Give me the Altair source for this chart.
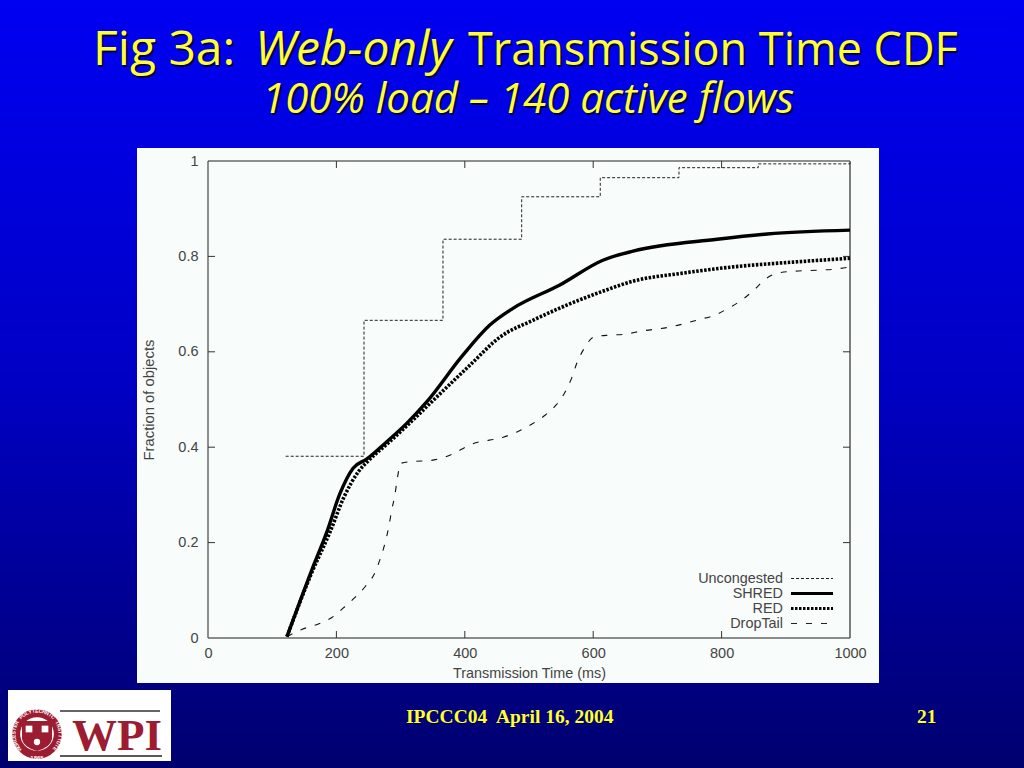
import math
import altair as alt
import pandas as pd

# ---- chart values ----
unc_x = [121, 243, 366, 488.6, 611, 733.6, 857, 1000]
unc_y = [0.381, 0.666, 0.836, 0.925, 0.965, 0.986, 0.994, 0.998]

shred_x = [123, 161.5, 185, 205.6, 226, 247, 278, 309.5, 340.6, 397, 439, 475, 548, 615, 662, 793, 871, 1000]
shred_y = [0.003, 0.142, 0.222, 0.303, 0.356, 0.375, 0.411, 0.450, 0.495, 0.593, 0.656, 0.691, 0.740, 0.792, 0.811, 0.836, 0.847, 0.855]

red_x = [123, 161, 190, 212, 235, 250, 280, 310, 346, 408, 455, 506, 559, 611, 662, 740, 818, 911, 1000]
red_y = [0.003, 0.135, 0.222, 0.296, 0.350, 0.372, 0.408, 0.445, 0.492, 0.572, 0.631, 0.666, 0.698, 0.725, 0.748, 0.765, 0.778, 0.788, 0.796]

drop_x = [123, 146, 169, 193, 210, 229, 245, 260, 269, 276, 282, 286, 291, 295, 300, 318, 346, 380, 408, 460, 483, 504, 525, 542, 556, 567, 575, 586, 601, 626, 650, 673, 720, 766, 790, 810, 833, 850, 870, 888, 914, 948, 974, 1000]
drop_y = [0.003, 0.018, 0.028, 0.043, 0.062, 0.085, 0.108, 0.137, 0.169, 0.200, 0.236, 0.267, 0.299, 0.335, 0.366, 0.370, 0.372, 0.385, 0.405, 0.421, 0.433, 0.448, 0.467, 0.488, 0.515, 0.547, 0.578, 0.607, 0.631, 0.635, 0.637, 0.643, 0.652, 0.668, 0.677, 0.691, 0.710, 0.729, 0.754, 0.765, 0.769, 0.771, 0.773, 0.778]

legend_labels = ["Uncongested", "SHRED", "RED", "DropTail"]
x_ticks = [0, 200, 400, 600, 800, 1000]
y_ticks = [0, 0.2, 0.4, 0.6, 0.8, 1]
inner_x_ticks = [200, 400, 600, 800]
inner_y_ticks = [0.2, 0.4, 0.6, 0.8]

# ---- layout helpers (page pixels -> plot-relative pixels) ----
OX, OY = 208, 161
W, H = 642, 477
px = lambda v: alt.value(v - OX)
py = lambda v: alt.value(v - OY)
one = pd.DataFrame({"a": [0]})
TXT = "#444444"
YEL = "#ffff33"
CRIM = "#9c1c32"

xenc = alt.X("x:Q", scale=alt.Scale(domain=[0, 1000], nice=False),
             axis=alt.Axis(values=x_ticks, format="d", title="Transmission Time (ms)", grid=False, domain=False,
                           ticks=False, labelFont="Liberation Sans", labelFontSize=14.5, labelColor=TXT,
                           labelPadding=8, labelFlush=False, titleFont="Liberation Sans", titleFontSize=14.4,
                           titleFontWeight="normal", titleColor=TXT, titlePadding=7, zindex=1))
yenc = alt.Y("y:Q", scale=alt.Scale(domain=[0, 1], nice=False),
             axis=alt.Axis(values=y_ticks, format="~g", title="Fraction of objects", grid=False, domain=False,
                           ticks=False, labelFont="Liberation Sans", labelFontSize=14.5, labelColor=TXT,
                           labelPadding=10, labelFlush=False, titleFont="Liberation Sans", titleFontSize=14.8,
                           titleFontWeight="normal", titleColor=TXT, titlePadding=21, zindex=1))


def box(x0, y0, x1, y1, **kw):
    return alt.Chart(one).mark_rect(**kw).encode(x=px(x0), x2=px(x1), y=py(y0), y2=py(y1))


def seg(x0, y0, x1, y1, color, width=1, dash=None):
    opts = dict(color=color, strokeWidth=width)
    if dash:
        opts["strokeDash"] = dash
    return alt.Chart(one).mark_rule(**opts).encode(x=px(x0), x2=px(x1), y=py(y0), y2=py(y1))


def label(s, x, y, **kw):
    return alt.Chart(one).mark_text(text=s, **kw).encode(x=px(x), y=py(y))


def shadowed(s, x, y, off=2, **kw):
    return [label(s, x + off, y + off, color="#00004a", **kw), label(s, x, y, color=YEL, **kw)]


def dot(x, y, size, color, shape="circle"):
    return alt.Chart(one).mark_point(filled=True, opacity=1, size=size, color=color, shape=shape).encode(x=px(x), y=py(y))


def series(xs, ys, **kw):
    return alt.Chart(pd.DataFrame({"x": xs, "y": ys})).mark_line(clip=False, **kw).encode(x=xenc, y=yenc)


layers = []
# slide background and white panel
layers.append(box(0, 0, 1024, 768, fill=alt.Gradient(
    gradient="linear", x1=0, y1=0, x2=0, y2=1,
    stops=[alt.GradientStop(offset=0, color="#0000f2"),
           alt.GradientStop(offset=0.5, color="#0000c4"),
           alt.GradientStop(offset=1, color="#00006e")])))
layers.append(box(137, 148, 879, 683, color="#f8fcfa"))

# frame
layers += [seg(OX, OY, OX + W, OY, "#222222"), seg(OX, OY, OX, OY + H, "#222222"),
           seg(OX, OY + H, OX + W, OY + H, "#666666", 1.5), seg(OX + W, OY, OX + W, OY + H, "#555555", 1.5)]

# inward ticks on all four sides
tx = pd.DataFrame({"x": inner_x_ticks})
ty = pd.DataFrame({"y": inner_y_ticks})
layers.append(alt.Chart(tx).mark_rule(color="#333333").encode(x=xenc, y=alt.value(H), y2=alt.value(H - 7)))
layers.append(alt.Chart(tx).mark_rule(color="#333333").encode(x=xenc, y=alt.value(0), y2=alt.value(7)))
layers.append(alt.Chart(ty).mark_rule(color="#333333").encode(y=yenc, x=alt.value(0), x2=alt.value(7)))
layers.append(alt.Chart(ty).mark_rule(color="#333333").encode(y=yenc, x=alt.value(W), x2=alt.value(W - 7)))

# data
layers.append(series(unc_x, unc_y, color="#222222", strokeWidth=1, strokeDash=[3, 2], interpolate="step-after"))
layers.append(series(drop_x, drop_y, color="#111111", strokeWidth=1.1, strokeDash=[6, 9], interpolate="monotone"))
layers.append(series(red_x, red_y, color="#000000", strokeWidth=3.6, strokeDash=[2.5, 1.5], interpolate="monotone"))
layers.append(series(shred_x, shred_y, color="#000000", strokeWidth=3.4, interpolate="monotone"))

# key
styles = [dict(color="#222222", width=1, dash=[3, 2]), dict(color="#000000", width=3),
          dict(color="#000000", width=3.2, dash=[2.5, 1.5]), dict(color="#222222", width=1, dash=[6, 9])]
for i, (name, st) in enumerate(zip(legend_labels, styles)):
    y = 578.5 + 15 * i
    layers.append(label(name, 783, y, align="right", baseline="middle", font="Liberation Sans", fontSize=14.4, color=TXT))
    layers.append(seg(791, y, 833, y, **st))

# headline
hfont = dict(font="Open Sans", align="left", baseline="alphabetic")
layers += shadowed("Fig 3a:", 93, 65, fontSize=48, **hfont)
layers += shadowed("Web-only", 255, 65, fontSize=48, fontStyle="italic", **hfont)
layers += shadowed("Transmission Time CDF", 468, 65, fontSize=45, **hfont)
layers += shadowed("100% load \u2013 140 active flows", 262, 113, fontSize=42, fontStyle="italic", **hfont)

# footer
ffont = dict(font="Liberation Serif", fontWeight="bold", fontSize=19.5, align="left", baseline="alphabetic")
layers += shadowed("IPCCC04\u00a0 April 16, 2004", 406, 723, off=1, **ffont)
layers += shadowed("21", 917, 723, off=1, **ffont)

# logo
layers.append(box(8, 690, 171, 761, color="#ffffff"))
layers.append(seg(60, 711, 160, 711, "#333333", 1.5))
layers.append(seg(60, 756, 162, 756, "#222222", 1.5))
layers.append(label("WPI", 72, 750, font="Liberation Serif", fontWeight="bold", fontSize=45, color=CRIM,
                    align="left", baseline="alphabetic"))
CX, CY = 37, 734
layers.append(dot(CX, CY, 2460, CRIM))
layers.append(dot(CX, CY, 1134, "#ffffff"))
shield = "M-1,-1 L1,-1 L1,0.2 Q0.9,0.75 0,1 Q-0.9,0.75 -1,0.2 Z"
layers.append(dot(CX, CY + 2, 900, CRIM, shield))
layers.append(dot(CX - 8, CY - 5, 45, "#ffffff", "square"))
layers.append(dot(CX + 8, CY - 5, 45, "#ffffff", "square"))
layers.append(dot(CX, CY + 8, 40, "#ffffff", "circle"))
ring = "WORCESTER POLYTECHNIC INSTITUTE"
for i, ch in enumerate(ring):
    a = -130 + i * 260 / (len(ring) - 1)
    r = 23.5
    layers.append(label(ch, CX + r * math.sin(math.radians(a)), CY - r * math.cos(math.radians(a)),
                        font="Liberation Sans", fontWeight="bold", fontSize=5, color="#ffffff",
                        align="center", baseline="middle", angle=(a + 360) % 360))
layers.append(label("1865", CX, CY + 23.5, font="Liberation Sans", fontWeight="bold", fontSize=6, color="#ffffff",
                    align="center", baseline="middle"))

chart = alt.layer(*layers).properties(
    width=W, height=H,
    padding={"left": OX, "top": OY, "right": 1024 - OX - W, "bottom": 768 - OY - H},
    autosize=alt.AutoSizeParams(type="none"),
    background="#000080",
).configure_view(stroke=None)

chart.save("out.html", embed_options={
    "renderer": "svg", "actions": False,
    "defaultStyle": "html,body{margin:0;padding:0;overflow:hidden;background:#000080}",
})
